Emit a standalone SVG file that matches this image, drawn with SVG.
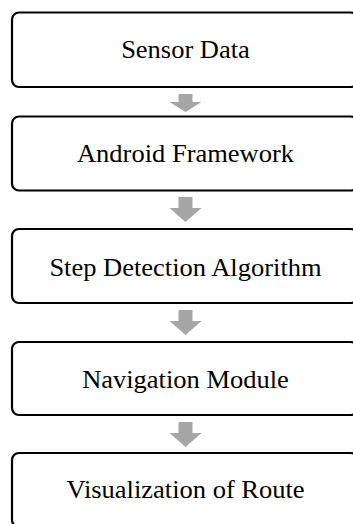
<svg xmlns="http://www.w3.org/2000/svg" width="353" height="524" viewBox="0 0 353 524">
  <style>
    .box { fill: #ffffff; stroke: #000000; stroke-width: 2.2; }
    .label { font-family: 'Liberation Serif', serif; font-size: 25px; fill: #000000; text-anchor: middle; }
    .flow { fill: #a6a6a6; stroke: none; }
  </style>
  <defs>
    <!-- block arrow pointing down, origin at top centre of the shaft -->
    <path id="down" d="M-7,0 H7 V11 H16 L0,25 L-16,11 H-7 Z"/>
    <path id="down-short" d="M-7,0 H7 V8 H16 L0,18 L-16,8 H-7 Z"/>
  </defs>
  <rect width="353" height="524" fill="#ffffff"/>

  <g id="connectors">
    <use href="#down-short" class="flow" x="185.5" y="94"/>
    <use href="#down" class="flow" x="185.5" y="197"/>
    <use href="#down" class="flow" x="185.5" y="310"/>
    <use href="#down" class="flow" x="185.5" y="422"/>
  </g>

  <g id="sensor-data">
    <rect class="box" x="12" y="12.5" width="346" height="74.5" rx="7"/>
    <text class="label" transform="translate(185.5 57.7) scale(1.06 1)">Sensor Data</text>
  </g>
  <g id="android-framework">
    <rect class="box" x="12" y="116.5" width="346" height="74" rx="7"/>
    <text class="label" transform="translate(185.5 161.7) scale(1.06 1)">Android Framework</text>
  </g>
  <g id="step-detection">
    <rect class="box" x="12" y="229" width="346" height="74" rx="7"/>
    <text class="label" transform="translate(185.5 275.5) scale(1.06 1)">Step Detection Algorithm</text>
  </g>
  <g id="navigation-module">
    <rect class="box" x="12" y="342" width="346" height="73" rx="7"/>
    <text class="label" transform="translate(185.5 388) scale(1.06 1)">Navigation Module</text>
  </g>
  <g id="route-visualization">
    <rect class="box" x="12" y="453" width="346" height="74" rx="7"/>
    <text class="label" transform="translate(185.5 498) scale(1.06 1)">Visualization of Route</text>
  </g>
</svg>
